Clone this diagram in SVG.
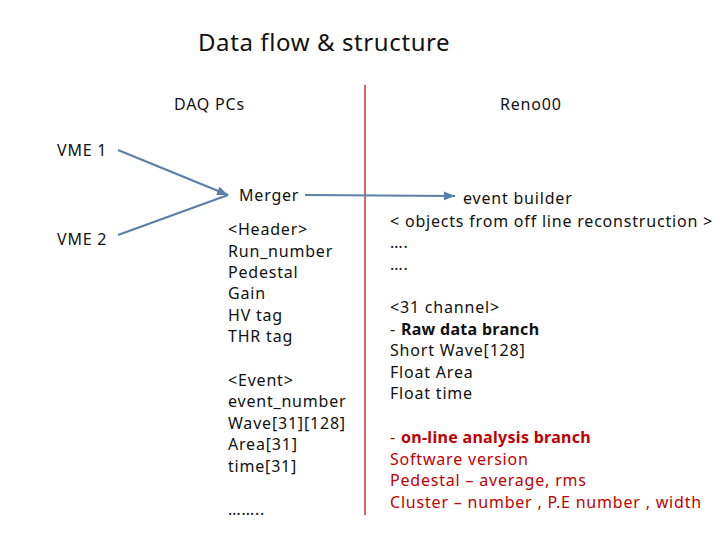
<svg xmlns="http://www.w3.org/2000/svg" width="720" height="540" viewBox="0 0 720 540">
<defs><marker id="a" markerWidth="6" markerHeight="6" refX="5" refY="3" orient="auto"><path d="M0,1 L5,3 L0,5 Z" fill="#5a7fa8"/></marker></defs>
<style>text{font-family:"Noto Sans","Open Sans",sans-serif;font-size:16px;fill:#111;letter-spacing:0.8px}.r{fill:#c00000}.b{font-weight:bold;letter-spacing:0.3px}.t{font-size:24px;letter-spacing:0.6px}</style>
<rect width="720" height="540" fill="#fff"/>
<text x="198" y="51" class="t">Data flow &amp; structure</text>
<line x1="365" y1="85" x2="365" y2="515" stroke="#c00000" stroke-width="1.2"/>
<g id="connectors" stroke="#5a7fa8" stroke-width="2.2" fill="none">
<line x1="118" y1="150" x2="228" y2="195" marker-end="url(#a)"/>
<line x1="118" y1="235" x2="228" y2="195"/>
<path d="M305,195 L455,196" marker-end="url(#a)"/>
</g>
<g id="daq"><text x="174" y="110">DAQ PCs</text></g>
<g id="reno"><text x="500" y="110">Reno00</text></g>
<g id="vme1"><text x="57" y="156">VME 1</text></g>
<g id="vme2"><text x="57" y="245">VME 2</text></g>
<g id="merger"><text x="239" y="201">Merger</text>
<text x="228" y="235">&lt;Header&gt;</text><text x="228" y="257">Run_number</text><text x="228" y="278">Pedestal</text><text x="228" y="299">Gain</text><text x="228" y="321">HV tag</text><text x="228" y="342">THR tag</text>
<text x="228" y="386">&lt;Event&gt;</text><text x="228" y="407">event_number</text><text x="228" y="429">Wave[31][128]</text><text x="228" y="450">Area[31]</text><text x="228" y="472">time[31]</text><text x="228" y="515">……..</text></g>
<g id="builder"><text x="463" y="204">event builder</text>
<text x="390" y="227">&lt; objects from off line reconstruction &gt;</text><text x="390" y="248">….</text><text x="390" y="270">….</text>
<text x="390" y="313">&lt;31 channel&gt;</text><text x="390" y="335">- <tspan class="b">Raw data branch</tspan></text><text x="390" y="356">Short Wave[128]</text><text x="390" y="378">Float Area</text><text x="390" y="399">Float time</text>
<text x="390" y="443" class="r">- <tspan class="b r">on-line analysis branch</tspan></text><text x="390" y="465" class="r">Software version</text><text x="390" y="486" class="r">Pedestal – average, rms</text><text x="390" y="508" class="r">Cluster – number , P.E number , width</text></g>
</svg>
